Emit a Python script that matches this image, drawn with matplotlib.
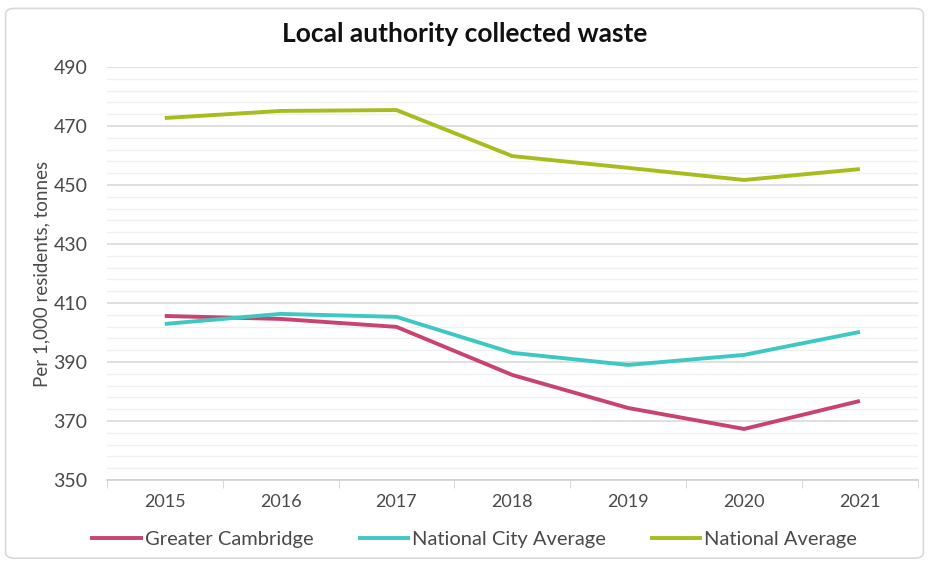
import matplotlib
matplotlib.use("Agg")
import matplotlib.pyplot as plt
from matplotlib.patches import FancyBboxPatch
import numpy as np

# -- Donnees ---------------------------------------------------------------
years = ["2015", "2016", "2017", "2018", "2019", "2020", "2021"]
greater_cambridge = [405.6, 404.6, 401.9, 385.6, 374.4, 367.3, 376.8]
national_city_avg = [402.9, 406.3, 405.3, 393.1, 389.0, 392.4, 400.2]
national_avg      = [472.7, 475.1, 475.4, 459.8, 455.8, 451.7, 455.4]

series = [
    ("Greater Cambridge",     greater_cambridge, "#C8436E"),
    ("National City Average", national_city_avg, "#3EC8C4"),
    ("National Average",      national_avg,      "#A9BC1E"),
]

plt.rcParams["font.family"] = ["Lato", "DejaVu Sans"]

fig = plt.figure(figsize=(9.29, 5.61), dpi=100)
ax = fig.add_axes([0.115, 0.1444, 0.873, 0.7362])

# cadre gris arrondi autour du graphique
frame = FancyBboxPatch((0.006, 0.005), 0.988, 0.98, boxstyle="round,pad=0,rounding_size=0.01",
                       transform=fig.transFigure, facecolor="none", edgecolor="#d9d9d9", lw=1.2)
fig.patches.append(frame)

x = np.arange(len(years))
for nom, vals, couleur in series:
    ax.plot(x, vals, color=couleur, lw=2.8, label=nom, solid_capstyle="butt")

ax.set_xlim(-0.5, len(years) - 0.5)
ax.set_ylim(350, 490)
ax.set_yticks(range(350, 491, 20))
ax.set_yticks(range(350, 491, 4), minor=True)
ax.grid(axis="y", which="major", color="#d9d9d9", lw=1.2)
ax.grid(axis="y", which="minor", color="#f0f0f0", lw=1.0)
ax.set_axisbelow(True)

ax.set_xticks(x)
ax.set_xticklabels(years)
ax.set_xticks(np.arange(-0.5, len(years), 1), minor=True)
ax.tick_params(axis="x", which="major", length=0, pad=10, labelsize=13, colors="#4a4a4a")
ax.tick_params(axis="x", which="minor", length=6, color="#d0d0d0")
ax.tick_params(axis="y", which="both", length=0, labelsize=14, colors="#4a4a4a", pad=14)

for s in ["top", "right", "left"]:
    ax.spines[s].set_visible(False)
ax.spines["bottom"].set_color("#d0d0d0")
ax.spines["bottom"].set_linewidth(1.2)

ax.set_ylabel("Per 1,000 residents, tonnes", fontsize=13.5, color="#4a4a4a", labelpad=2)

fig.text(0.5, 0.94, "Local authority collected waste", ha="center", va="center",
         fontsize=19, fontweight="bold", color="#111111")

fig.legend(loc="center", bbox_to_anchor=(0.51, 0.038), ncol=3, frameon=False,
           fontsize=14.5, handlelength=2.6, handletextpad=0.1, columnspacing=2.2,
           labelcolor="#4a4a4a")

plt.savefig("out.png", dpi=100)
plt.close()
